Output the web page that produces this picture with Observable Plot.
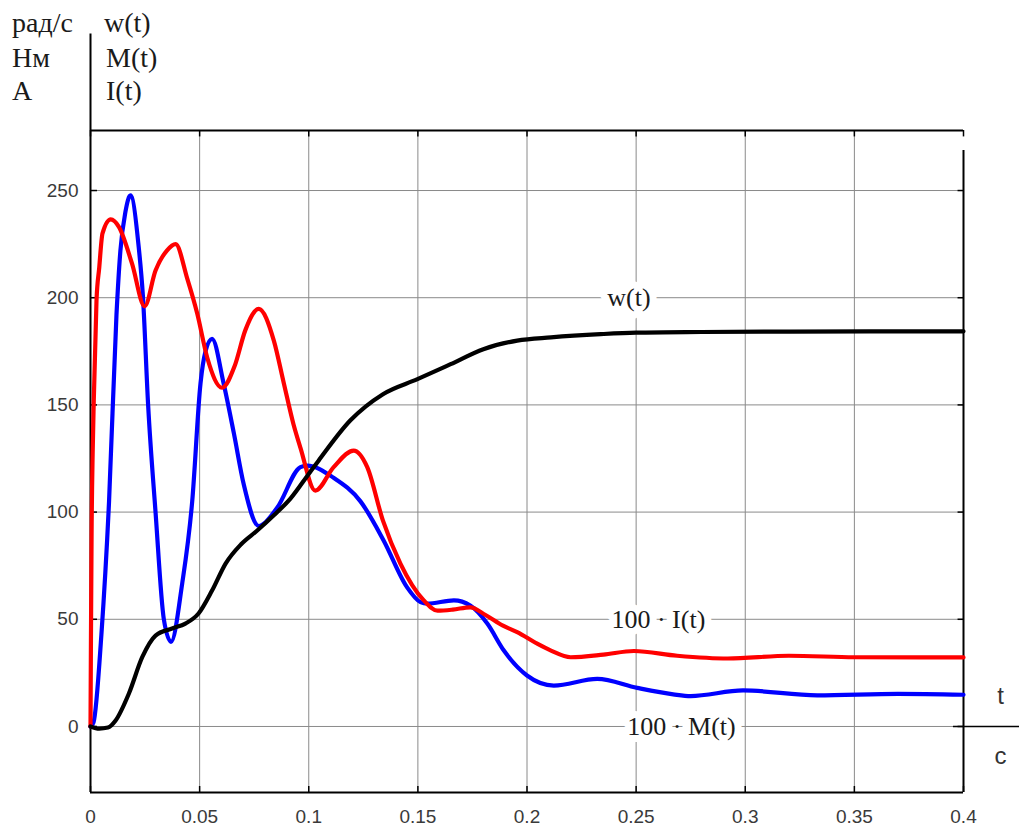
<!DOCTYPE html>
<html><head><meta charset="utf-8">
<script src="https://cdn.jsdelivr.net/npm/d3@7"></script>
<script src="https://cdn.jsdelivr.net/npm/@observablehq/plot@0.6"></script>
<style>
body{margin:0;background:#fff;}
#wrap{position:relative;width:1019px;height:830px;overflow:hidden;}
.hdr{position:absolute;font-family:"Liberation Serif","Times New Roman",serif;font-size:28px;line-height:28px;color:#1a1a1a;white-space:nowrap;}
</style></head><body>
<div id="wrap"></div>
<script>
// w(t), rad/s
const tW = [0, 0.004, 0.008, 0.0115, 0.0176, 0.0237, 0.0298, 0.0374, 0.0435, 0.0495, 0.0557, 0.0619, 0.069, 0.0764, 0.084, 0.0916, 0.0994, 0.1045, 0.119, 0.134, 0.1498, 0.165, 0.18, 0.1955, 0.211, 0.2337, 0.25, 0.28, 0.32, 0.36, 0.4];
const wVals = [0, -1, -0.5, 2.8, 15.4, 32.3, 42.4, 45.7, 48, 52.7, 63.4, 76, 85, 91.4, 98.5, 106.3, 117, 124, 142.7, 155, 162, 169, 176, 180, 181.5, 183, 183.7, 184, 184.2, 184.3, 184.3];
// 100*I(t)
const tI = [0, 0.0002, 0.0005, 0.001, 0.0015, 0.00275, 0.004, 0.0055, 0.0093, 0.013, 0.019, 0.0248, 0.0298, 0.035, 0.039, 0.0443, 0.0489, 0.0535, 0.0603, 0.066, 0.071, 0.0771, 0.084, 0.0886, 0.093, 0.0962, 0.103, 0.1114, 0.1206, 0.1268, 0.134, 0.142, 0.1527, 0.159, 0.166, 0.174, 0.181, 0.189, 0.1955, 0.2047, 0.211, 0.22, 0.235, 0.249, 0.2688, 0.292, 0.32, 0.35, 0.38, 0.4];
const iVals = [0, 40, 90, 128, 152, 198.7, 214, 230, 236.5, 233, 216, 196, 212.7, 222, 225, 209, 192.6, 172, 158, 168, 185, 194.8, 180, 160, 141, 130, 110, 121, 128.7, 121, 96, 76, 58.8, 54, 54.5, 55.6, 52, 47, 44, 38.6, 35.4, 32.3, 33.5, 35.2, 33, 31.7, 33, 32.3, 32.2, 32.2];
// 100*M(t)
const tM = [0, 0.0014, 0.005, 0.0085, 0.0119, 0.0137, 0.016, 0.0183, 0.0221, 0.024, 0.0264, 0.0298, 0.0336, 0.0369, 0.042, 0.0466, 0.0504, 0.0527, 0.0557, 0.061, 0.0657, 0.0702, 0.0771, 0.0855, 0.0962, 0.0993, 0.1114, 0.1237, 0.1343, 0.145, 0.1512, 0.1543, 0.1665, 0.174, 0.1818, 0.1894, 0.2, 0.2123, 0.2322, 0.2505, 0.267, 0.275, 0.299, 0.333, 0.37, 0.4];
const mVals = [0, 2, 43, 105, 192, 222, 240, 247.7, 223.5, 201, 150, 100, 50, 39.5, 66.6, 105, 160, 175, 180.8, 160, 136.7, 113, 93.5, 102, 121, 121.7, 116, 105, 86.8, 65, 58, 57.3, 58.8, 56.4, 48, 35.4, 23.8, 19.1, 22.2, 18, 15, 14.2, 16.8, 14.5, 15.2, 14.8];

const xTicks = [0, 0.05, 0.1, 0.15, 0.2, 0.25, 0.3, 0.35, 0.4];
const xTickLabels = ["0", "0.05", "0.1", "0.15", "0.2", "0.25", "0.3", "0.35", "0.4"];
const yTicks = [0, 50, 100, 150, 200, 250];
const yTickLabels = ["0", "50", "100", "150", "200", "250"];

const unitLabels = ["рад/с", "Нм", "А"];
const funcLabels = ["w(t)", "M(t)", "I(t)"];
const curveLabels = ["w(t)", "100 \u00B7 I(t)", "100 \u00B7 M(t)"];
const labelT = [0.2467, 0.2602, 0.2708];
const labelV = [200, 50, 0];
const xUnitLabels = ["t", "c"];

const xMin = 0, xMax = 0.4, yMin = -30.8, yMax = 278;

const toRows = (ts, vs) => ts.map((t, i) => ({t, v: vs[i]}));
const wData = toRows(tW, wVals);
const iData = toRows(tI, iVals);
const mData = toRows(tM, mVals);

const grid = "#8a8a8a";
const chart = Plot.plot({
  width: 1019,
  height: 830,
  marginLeft: 90,
  marginRight: 56,
  marginTop: 130,
  marginBottom: 38,
  style: {fontFamily: "'Liberation Sans', Arial, sans-serif", fontSize: "19px", color: "#3a3a3a", background: "white", overflow: "visible"},
  x: {domain: [xMin, xMax]},
  y: {domain: [yMin, yMax]},
  marks: [
    // grid
    Plot.ruleX(xTicks.slice(1, -1), {y1: yMin, y2: yMax, stroke: grid, strokeWidth: 1}),
    Plot.ruleY(yTicks, {x1: xMin, x2: xMax, stroke: grid, strokeWidth: 1}),
    // inner ticks
    Plot.ruleY(yTicks, {x1: xMin, x2: xMin + 0.0032, stroke: "#000", strokeWidth: 1.5}),
    Plot.ruleY(yTicks, {x1: xMax - 0.0025, x2: xMax, stroke: "#000", strokeWidth: 1.5}),
    Plot.ruleX(xTicks, {y1: yMin, y2: yMin + 2.8, stroke: "#000", strokeWidth: 1.5}),
    Plot.ruleX(xTicks, {y1: yMax - 3, y2: yMax, stroke: "#000", strokeWidth: 1.5}),
    // frame
    Plot.ruleX([xMin], {y1: yMin, y2: 323, stroke: "#000", strokeWidth: 2}),
    Plot.ruleX([xMax], {y1: yMin, y2: 268.7, stroke: "#000", strokeWidth: 2}),
    Plot.ruleY([yMax], {x1: xMin, x2: xMax, stroke: "#000", strokeWidth: 2}),
    Plot.ruleY([yMin], {x1: xMin, x2: xMax, stroke: "#000", strokeWidth: 2}),
    Plot.ruleY([0], {x1: 0.3954, x2: 0.4257, stroke: "#000", strokeWidth: 1.5}),
    // axes labels
    Plot.axisX(xTicks, {tickSize: 0, tickPadding: 17, tickFormat: d => xTickLabels[xTicks.indexOf(d)], label: null, fontSize: 19}),
    Plot.axisY(yTicks, {tickSize: 0, tickPadding: 12, tickFormat: d => yTickLabels[yTicks.indexOf(d)], label: null, fontSize: 19}),
    // curves
    Plot.line(mData, {x: "t", y: "v", stroke: "#0000ff", strokeWidth: 4.2, curve: "monotone-x"}),
    Plot.line(iData, {x: "t", y: "v", stroke: "#ff0000", strokeWidth: 4.2, curve: "monotone-x"}),
    Plot.line(wData, {x: "t", y: "v", stroke: "#000000", strokeWidth: 4.2, curve: "monotone-x"}),
    // curve labels
    Plot.text(curveLabels, {x: (d, i) => labelT[i], y: (d, i) => labelV[i], text: d => d,
      fontFamily: "'Liberation Serif', 'Times New Roman', serif", fontSize: 26, fill: "#1a1a1a",
      stroke: "white", strokeWidth: 14}),
    // t / c axis unit
    Plot.text([xUnitLabels[0]], {x: xMax, y: 0, text: d => d, dx: 37, dy: -30, fontSize: 24, fill: "#333"}),
    Plot.text([xUnitLabels[1]], {x: xMax, y: 0, text: d => d, dx: 37, dy: 30, fontSize: 24, fill: "#333"})
  ]
});
const wrap = document.getElementById("wrap");
wrap.appendChild(chart);
const hdrTops = [9, 44, 77];
unitLabels.forEach((s, i) => {
  const d = document.createElement("div");
  d.className = "hdr"; d.textContent = s;
  d.style.left = "12px"; d.style.top = hdrTops[i] + "px";
  wrap.appendChild(d);
});
funcLabels.forEach((s, i) => {
  const d = document.createElement("div");
  d.className = "hdr"; d.textContent = s;
  d.style.left = (i === 0 ? 104 : 106) + "px"; d.style.top = hdrTops[i] + "px";
  wrap.appendChild(d);
});
</script>
</body></html>
